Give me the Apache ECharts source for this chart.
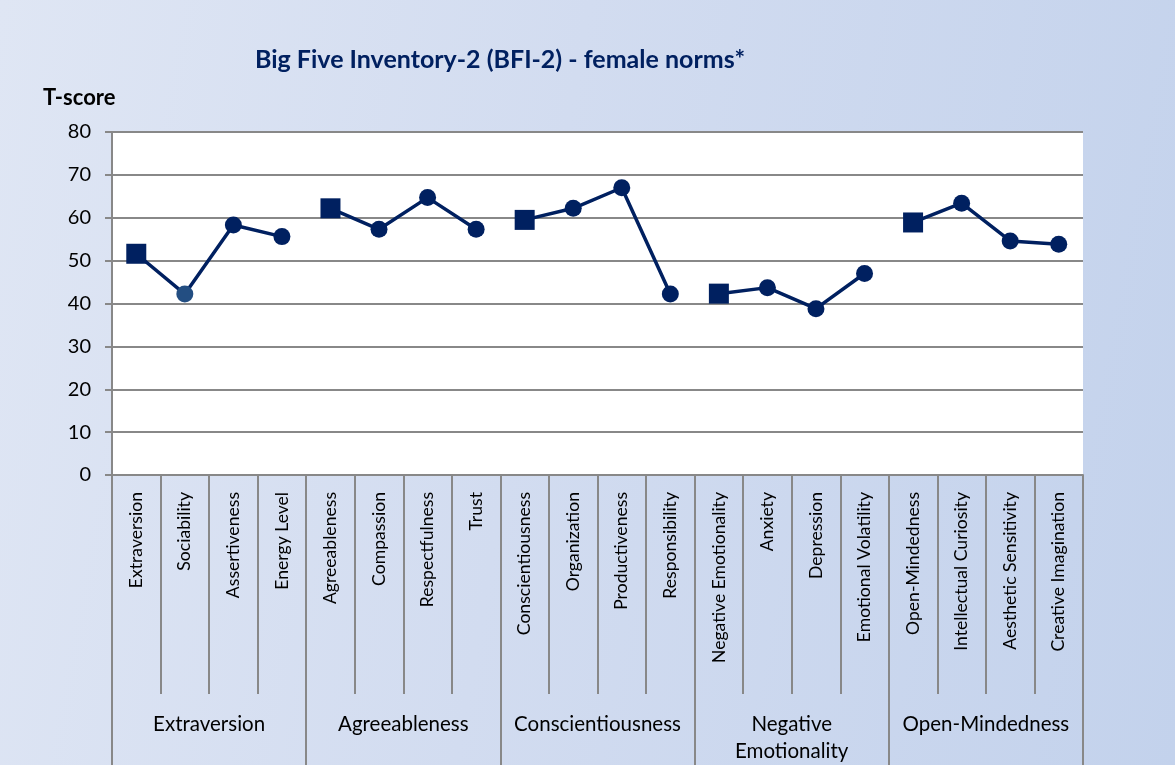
<!DOCTYPE html>
<html>
<head>
<meta charset="utf-8">
<script src="https://cdn.jsdelivr.net/npm/echarts@6/dist/echarts.min.js"></script>
<style>
html,body{margin:0;padding:0;width:1175px;height:765px;overflow:hidden;}
body{background:linear-gradient(100deg,#dfe6f4 0%,#d2dcf0 45%,#c3d2ec 100%);}
#chart{width:1175px;height:765px;}
</style>
</head>
<body>
<div id="chart"></div>
<script>
const facets = ["Extraversion","Sociability","Assertiveness","Energy Level",
  "Agreeableness","Compassion","Respectfulness","Trust",
  "Conscientiousness","Organization","Productiveness","Responsibility",
  "Negative Emotionality","Anxiety","Depression","Emotional Volatility",
  "Open-Mindedness","Intellectual Curiosity","Aesthetic Sensitivity","Creative Imagination"];
const groups = ["Extraversion","Agreeableness","Conscientiousness","Negative\nEmotionality","Open-Mindedness"];
const groupSize = [4,4,4,4,4];
const tScores = [51.6,42.2,58.3,55.6, 62.2,57.3,64.7,57.3, 59.5,62.2,67.0,42.2, 42.3,43.7,38.8,47.0, 58.9,63.4,54.6,53.8];
const yTicks = [0,10,20,30,40,50,60,70,80];

const navy = '#002060';
const series = [];
let start = 0;
groupSize.forEach((n, g) => {
  const data = facets.map((f, i) => {
    if (i < start || i >= start + n) return null;
    const item = {value: tScores[i]};
    if (i === start) { item.symbol = 'rect'; item.symbolSize = 20; }
    if (facets[i] === 'Sociability') item.itemStyle = {color: '#234e82'};
    return item;
  });
  series.push({
    type: 'line', data: data, xAxisIndex: 0, yAxisIndex: 0,
    symbol: 'circle', symbolSize: 17, connectNulls: false,
    lineStyle: {color: navy, width: 3.5},
    itemStyle: {color: navy},
    emphasis: {disabled: true}, animation: false
  });
  start += n;
});

const chart = echarts.init(document.getElementById('chart'));
const font = 'Lato, "Liberation Sans", sans-serif';
chart.setOption({
  backgroundColor: 'transparent',
  animation: false,
  title: {
    text: 'Big Five Inventory-2 (BFI-2) - female norms*',
    left: 250, top: 42,
    textStyle: {color: navy, fontSize: 25, fontWeight: 'bold', fontFamily: font}
  },
  graphic: [{
    type: 'text', left: 43, top: 87,
    style: {text: 'T-score', fill: '#000', font: 'bold 22px ' + font}
  }],
  grid: {left: 112, right: 92, top: 132, bottom: 287, show: true, backgroundColor: '#ffffff', borderWidth: 0},
  xAxis: [{
    type: 'category', data: facets, position: 'bottom',
    boundaryGap: true,
    axisLine: {show: true, lineStyle: {color: '#888888', width: 2}},
    axisTick: {show: true, length: 219, interval: 0, lineStyle: {color: '#888888', width: 2}},
    axisLabel: {rotate: 90, interval: 0, margin: 17, color: '#000', fontSize: 17.6, fontFamily: font},
    splitLine: {show: false}
  }, {
    type: 'category', data: groups, position: 'bottom',
    boundaryGap: true,
    axisLine: {show: false},
    axisTick: {show: true, length: 290, interval: 0, lineStyle: {color: '#888888', width: 2}},
    axisLabel: {interval: 0, margin: 236, color: '#000', fontSize: 20.5, lineHeight: 27, fontFamily: font},
    splitLine: {show: false}
  }],
  yAxis: {
    type: 'value', min: yTicks[0], max: yTicks[yTicks.length - 1], interval: 10,
    axisLine: {show: true, lineStyle: {color: '#888888', width: 2}},
    axisTick: {show: true, length: 7, lineStyle: {color: '#888888', width: 2}},
    axisLabel: {color: '#000', fontSize: 20, margin: 21, fontFamily: font},
    splitLine: {show: true, lineStyle: {color: '#888888', width: 2}}
  },
  series: series
});
</script>
</body>
</html>
